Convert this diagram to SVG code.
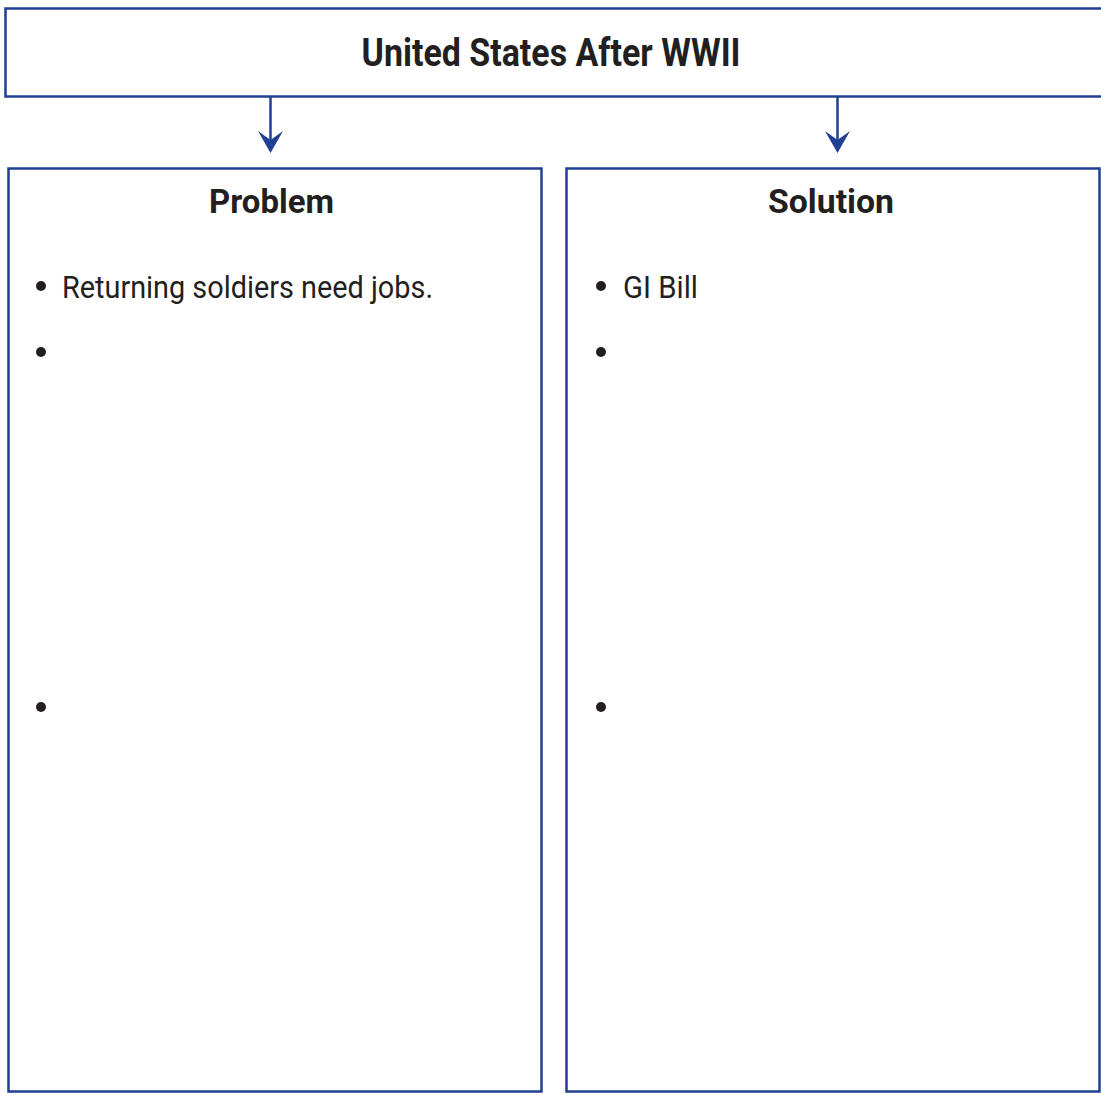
<svg xmlns="http://www.w3.org/2000/svg" width="1101" height="1097" viewBox="0 0 1101 1097">
<defs>
<style>
.box{fill:#fff;stroke:#213f93;stroke-width:2.5}
.conn{stroke:#213f93;stroke-width:2.5;fill:none}
.head{fill:#213f93}
.title{font-family:Roboto,"Liberation Sans",sans-serif;font-weight:bold;fill:#231f20;text-anchor:middle}
.body{font-family:Roboto,"Liberation Sans",sans-serif;fill:#231f20;font-size:31px}
.bullet{fill:#231f20}
</style>
</defs>
<g id="top">
<rect class="box" x="5.5" y="8.5" width="1110" height="88"/>
<text class="title" x="551" y="66" font-size="38.5" textLength="379" lengthAdjust="spacingAndGlyphs">United States After WWII</text>
</g>
<g id="connectors">
<line class="conn" x1="270.5" y1="97" x2="270.5" y2="140"/>
<path class="head" d="M258,131 L270.5,140 L283,131 L270.5,153 Z"/>
<line class="conn" x1="837.5" y1="97" x2="837.5" y2="140"/>
<path class="head" d="M825,131 L837.5,140 L850,131 L837.5,153 Z"/>
</g>
<g id="problem">
<rect class="box" x="8.5" y="168.5" width="533" height="923"/>
<text class="title" x="271.5" y="212.5" font-size="34" textLength="125" lengthAdjust="spacingAndGlyphs">Problem</text>
<circle class="bullet" cx="41" cy="286" r="5"/>
<text class="body" x="62" y="297.5" textLength="371" lengthAdjust="spacingAndGlyphs">Returning soldiers need jobs.</text>
<circle class="bullet" cx="41" cy="352" r="5"/>
<circle class="bullet" cx="41" cy="707" r="5"/>
</g>
<g id="solution">
<rect class="box" x="566.5" y="168.5" width="533" height="923"/>
<text class="title" x="831" y="212.5" font-size="34" textLength="126" lengthAdjust="spacingAndGlyphs">Solution</text>
<circle class="bullet" cx="601" cy="286" r="5"/>
<text class="body" x="623" y="297.5" textLength="75" lengthAdjust="spacingAndGlyphs">GI Bill</text>
<circle class="bullet" cx="601" cy="352" r="5"/>
<circle class="bullet" cx="601" cy="707" r="5"/>
</g>
</svg>
